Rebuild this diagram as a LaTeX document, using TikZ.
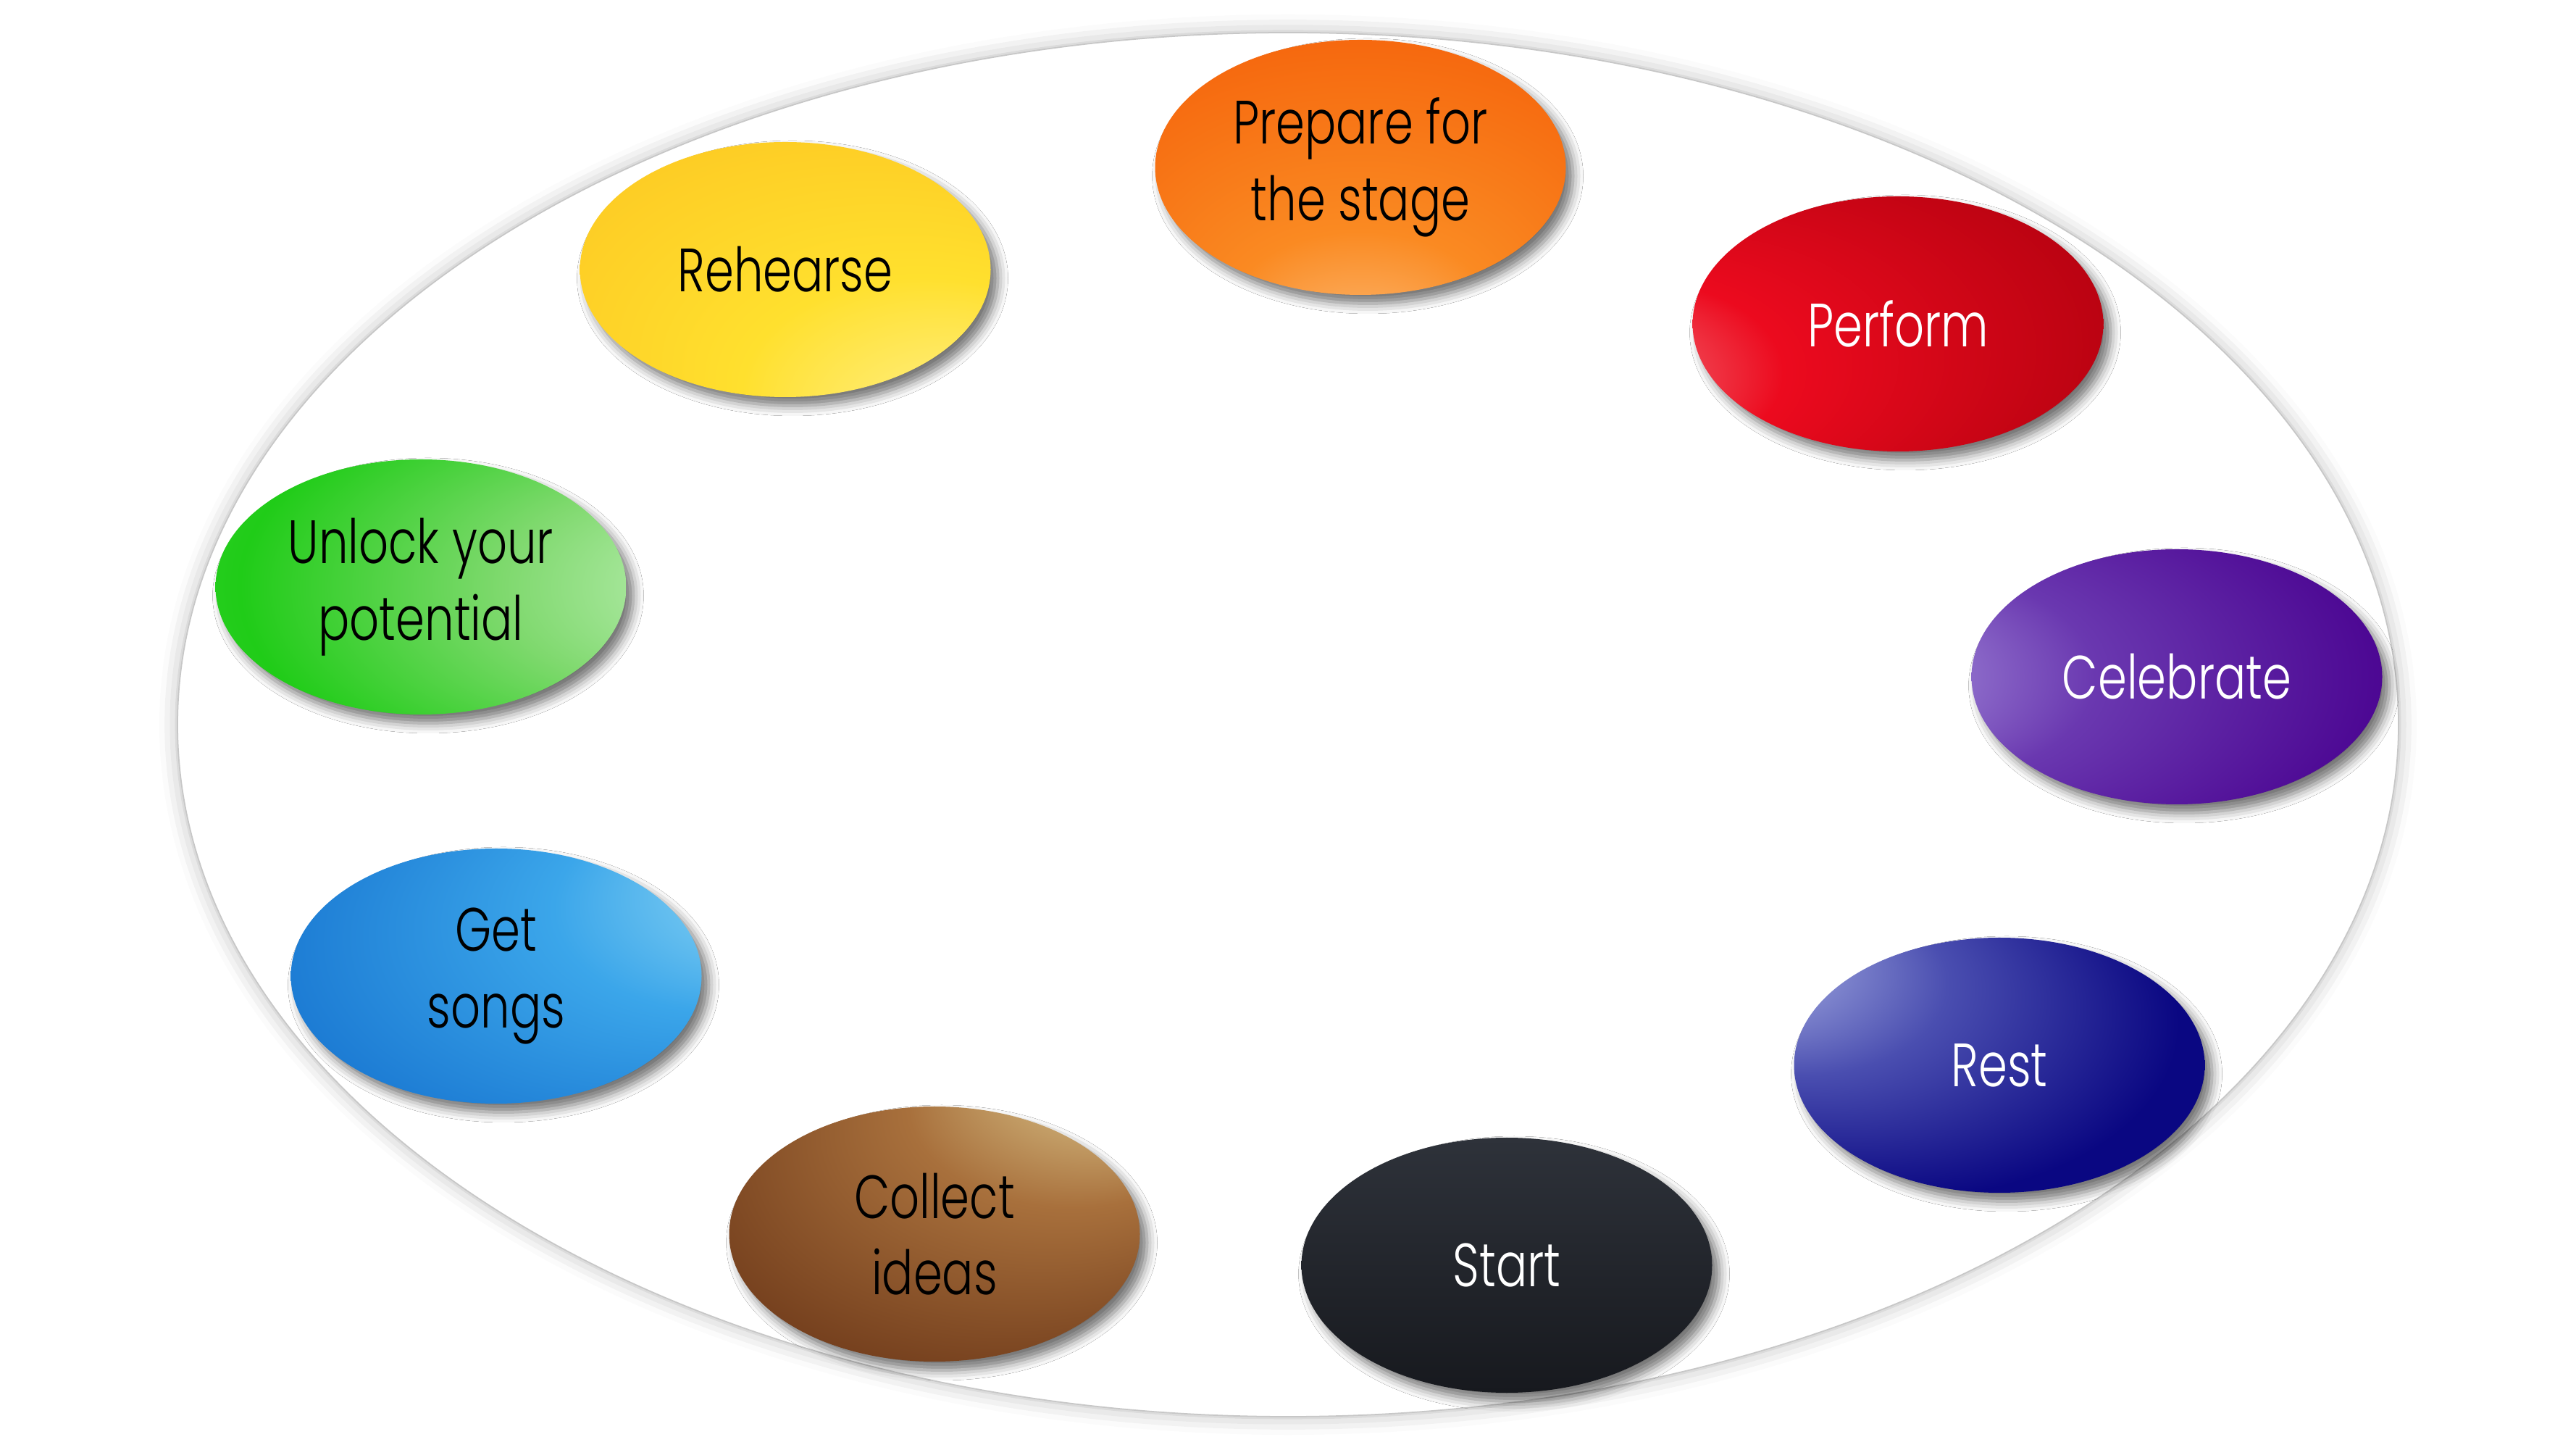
\documentclass[tikz,border=0pt]{standalone}
\usepackage{fontspec}
\newfontfamily\stonefont{Poppins Light}[FakeStretch=0.76]
\usetikzlibrary{shapes.geometric,shadows.blur}

\definecolor{prepLight}{HTML}{FCC78A}
\definecolor{prepMid}{HTML}{FA8A22}
\definecolor{prepDark}{HTML}{F6690F}
\definecolor{perfLight}{HTML}{F9B4B4}
\definecolor{perfMid}{HTML}{EC0A1E}
\definecolor{perfDark}{HTML}{A6000C}
\definecolor{celeLight}{HTML}{C0B8F0}
\definecolor{celeMid}{HTML}{6A38B0}
\definecolor{celeDark}{HTML}{48008F}
\definecolor{restLight}{HTML}{CAD3F6}
\definecolor{restMid}{HTML}{4A4EB0}
\definecolor{restDark}{HTML}{0A0782}
\definecolor{collLight}{HTML}{F3EFB2}
\definecolor{collMid}{HTML}{A8703C}
\definecolor{collDark}{HTML}{5E2A10}
\definecolor{songLight}{HTML}{AEEAF8}
\definecolor{songMid}{HTML}{3BA6EA}
\definecolor{songDark}{HTML}{1571CE}
\definecolor{unlkLight}{HTML}{DDF8D8}
\definecolor{unlkMid}{HTML}{7FD96E}
\definecolor{unlkDark}{HTML}{20CC18}
\definecolor{rehsLight}{HTML}{FFF7B5}
\definecolor{rehsMid}{HTML}{FFE02E}
\definecolor{rehsDark}{HTML}{FCBE1E}
\definecolor{slateTop}{HTML}{2E323A}
\definecolor{slateBot}{HTML}{17191E}

\pgfdeclareradialshading{prepglow}{\pgfpoint{0bp}{-42bp}}{color(0bp)=(prepLight); color(16bp)=(prepMid); color(36bp)=(prepDark); color(50bp)=(prepDark)}
\pgfdeclareradialshading{perfglow}{\pgfpoint{-50bp}{-15bp}}{color(0bp)=(perfLight); color(18bp)=(perfMid); color(46bp)=(perfDark); color(50bp)=(perfDark)}
\pgfdeclareradialshading{celeglow}{\pgfpoint{-50bp}{0bp}}{color(0bp)=(celeLight); color(20bp)=(celeMid); color(40bp)=(celeDark); color(50bp)=(celeDark)}
\pgfdeclareradialshading{restglow}{\pgfpoint{-38bp}{25bp}}{color(0bp)=(restLight); color(18bp)=(restMid); color(34bp)=(restDark); color(50bp)=(restDark)}
\pgfdeclareradialshading{collglow}{\pgfpoint{28bp}{42bp}}{color(0bp)=(collLight); color(20bp)=(collMid); color(46bp)=(collDark); color(50bp)=(collDark)}
\pgfdeclareradialshading{songglow}{\pgfpoint{45bp}{22bp}}{color(0bp)=(songLight); color(20bp)=(songMid); color(42bp)=(songDark); color(50bp)=(songDark)}
\pgfdeclareradialshading{unlkglow}{\pgfpoint{50bp}{0bp}}{color(0bp)=(unlkLight); color(20bp)=(unlkMid); color(36bp)=(unlkDark); color(50bp)=(unlkDark!85!white)}
\pgfdeclareradialshading{rehsglow}{\pgfpoint{30bp}{-42bp}}{color(0bp)=(rehsLight); color(22bp)=(rehsMid); color(50bp)=(rehsDark)}

\tikzset{
  stone/.style={ellipse, minimum width=5.67cm, minimum height=3.52cm, inner sep=0pt,
    align=center, font=\stonefont\fontsize{24}{30}\selectfont,
    blur shadow={shadow xshift=0.1cm, shadow yshift=-0.12cm, shadow blur radius=0.14cm, shadow opacity=55}},
  ring/.style={ellipse, minimum width=30.66cm, minimum height=19.1cm, inner sep=0pt,
    fill=white, draw=black!22, line width=0.5pt,
    blur shadow={shadow xshift=0pt, shadow yshift=0pt, shadow blur radius=0.25cm, shadow opacity=28}},
}

\begin{document}
\begin{tikzpicture}
      \useasboundingbox (0,0) rectangle (35.56,20);

      \node [ring] (ring) at (17.78,10) {};

      \node [stone, shading=prepglow]            (prep)  at (18.78,17.69) {Prepare for\\the stage};
      \node [stone, shading=perfglow, text=white] (perf)  at (26.20,15.53) {Perform};
      \node [stone, shading=celeglow, text=white] (cele)  at (30.05,10.66) {Celebrate};
      \node [stone, shading=restglow, text=white] (rest)  at (27.60,5.30)  {Rest};
      \node [stone, top color=slateTop, bottom color=slateBot, text=white] (start) at (20.80,2.54) {Start};
      \node [stone, shading=collglow]            (coll)  at (12.90,2.97)  {Collect\\ideas};
      \node [stone, shading=songglow]            (songs) at (6.85,6.53)   {Get\\songs};
      \node [stone, shading=unlkglow]            (unlk)  at (5.81,11.90)  {Unlock your\\potential};
      \node [stone, shading=rehsglow]            (rehs)  at (10.84,16.28) {Rehearse};
\end{tikzpicture}
\end{document}
